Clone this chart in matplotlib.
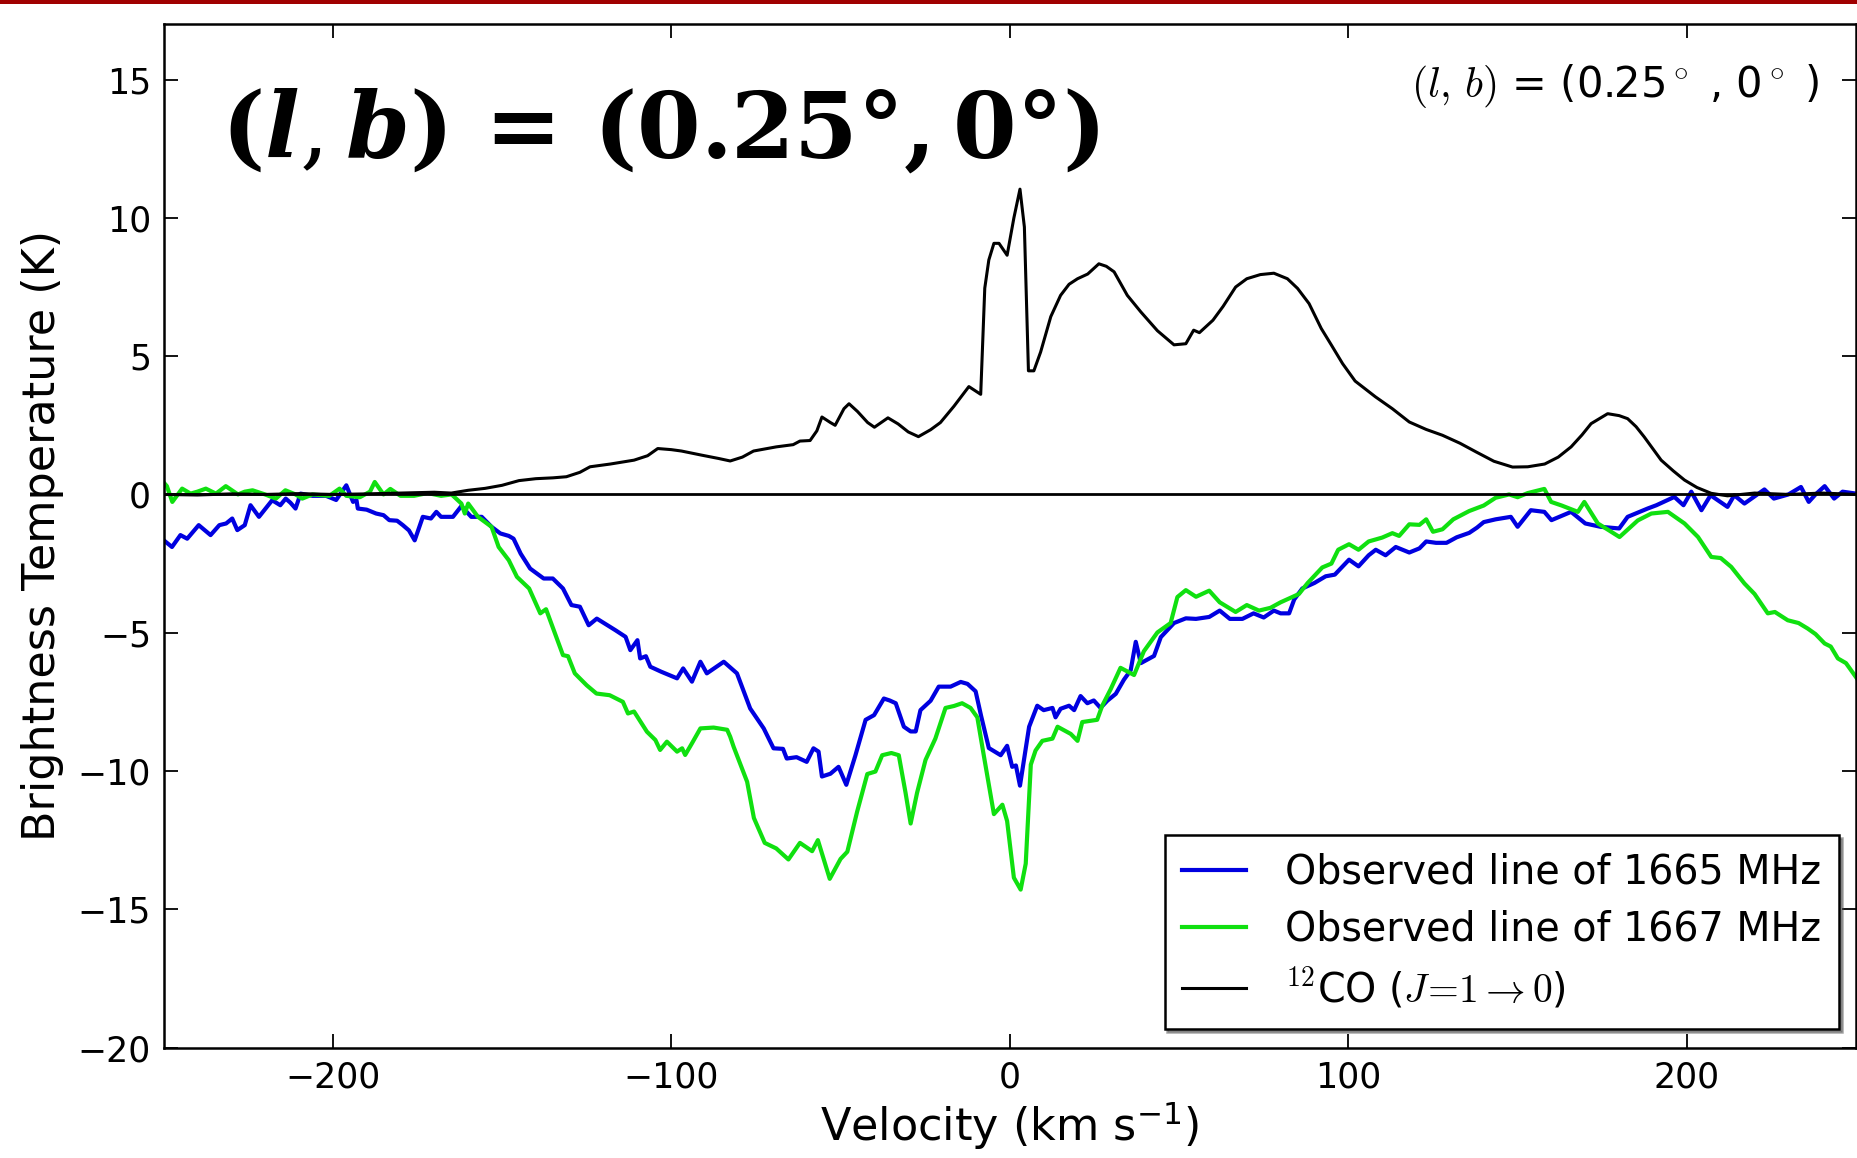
import matplotlib
matplotlib.use("Agg")
import matplotlib.pyplot as plt
from matplotlib.patches import Rectangle

plt.rcParams["font.family"] = ["DejaVu Sans"]
plt.rcParams["mathtext.fontset"] = "cm"

# 12CO (J=1-0)
co_v = [-250, -240, -230, -220, -210, -200, -190, -180, -170, -165, -160, -155,
        -150, -145, -140, -135, -131, -127, -124, -118, -111, -107, -104, -100,
        -97, -91, -86, -82.6, -79, -75.7, -69, -64, -62, -59, -57, -55.5, -53,
        -51.6, -49, -47.5, -45, -42, -40, -36, -33, -30, -27, -23.4, -20.5,
        -16.5, -12.1, -8.6, -7.4, -6.2, -4.7, -3.2, -0.8, 1.2, 3.0, 4.3, 5.5,
        7.1, 9.1, 12.1, 15, 17.5, 20, 23, 26.3, 28.5, 30.8, 34.7, 38.7, 43.6,
        48.5, 52, 54.3, 56, 60, 63, 66.7, 70, 74, 78, 82, 85, 88.4, 92, 95,
        98.3, 102, 108, 113, 118, 123, 127.8, 133, 137.7, 143, 148.5, 153, 158,
        162, 165.8, 169, 171.7, 176.6, 180, 182.5, 185, 187.4, 192.4, 196,
        199.3, 203, 207.2, 212, 220, 230, 240, 250]
co_t = [0.0, -0.02, 0.02, 0.0, 0.03, 0.0, 0.02, 0.05, 0.08, 0.05, 0.15, 0.22,
        0.33, 0.5, 0.57, 0.6, 0.64, 0.8, 1.0, 1.1, 1.24, 1.4, 1.66, 1.62,
        1.57, 1.42, 1.3, 1.21, 1.35, 1.57, 1.72, 1.8, 1.93, 1.95, 2.3, 2.8, 2.6,
        2.5, 3.1, 3.28, 3.0, 2.6, 2.43, 2.77, 2.55, 2.26, 2.09, 2.34, 2.6,
        3.19, 3.9, 3.62, 7.46, 8.48, 9.08, 9.08, 8.65, 10.0, 11.04, 9.67, 4.47,
        4.47, 5.15, 6.43, 7.2, 7.6, 7.8, 7.97, 8.34, 8.25, 8.05, 7.2, 6.6, 5.92,
        5.41, 5.45, 5.94, 5.85, 6.3, 6.8, 7.5, 7.8, 7.95, 8.0, 7.8, 7.45, 6.9, 6.0, 5.4,
        4.73, 4.1, 3.53, 3.1, 2.62, 2.35, 2.14, 1.85, 1.54, 1.2, 0.99, 1.0, 1.1,
        1.35, 1.72, 2.15, 2.56, 2.92, 2.85, 2.74, 2.45, 2.08, 1.24, 0.85,
        0.52, 0.25, 0.04, -0.05, 0.05, 0.0, 0.05, 0.0]

# OH 1665 MHz
oh1665_v = [-250.5, -247.5, -245, -243, -239.6, -236.1, -233.5, -231.5, -229.7,
            -228.2, -226, -224.3, -221.8, -217.9, -215.5, -213.9, -212.5, -211,
            -209.5, -206, -202, -199, -196, -194, -193, -192.6, -190, -187.2,
            -185, -183.3, -181, -179.3, -177.5, -175.8, -173.4, -171, -169.4,
            -168, -164.5, -162, -159.1, -156, -153.1, -150.5, -148, -146.6,
            -144.5, -141.7, -137.7, -135, -132, -129.5, -127, -124.4, -122,
            -116.5, -113.5, -112.1, -110, -109.2, -107.5, -106.2, -103, -98.3,
            -96.5, -93.9, -91.4, -89.5, -84.5, -80.6, -76.7, -72.7, -69.8, -67,
            -65.9, -63, -60, -58, -56.5, -55.5, -53, -50.6, -48.3, -45.6, -42.6,
            -40.1, -37.2, -35.5, -33.7, -31.3, -29.3, -27.8, -26.4, -23.4, -21,
            -17.5, -14.5, -12.5, -10.1, -8.5, -6.2, -2.7, -0.8, 0.7, 1.8, 3.0,
            4.3, 5.7, 8.1, 10, 12.6, 13.5, 15, 17.5, 19, 20.9, 22.9, 24.8, 26.8,
            28.8, 31.3, 33.7, 35.7, 37.2, 38.7, 42.6, 44.6, 46.5, 48.5, 52, 55,
            58.9, 62, 65, 68.7, 72, 75, 78, 80, 82.5, 84, 86.4, 90, 93.3, 96,
            100.2, 103, 106, 108.1, 111, 114, 118, 121, 123, 125.9, 129, 132,
            135.7, 138, 140, 143.5, 146, 148, 150, 153.9, 157.9, 160, 165.8,
            170, 174.5, 180, 182.5, 188.4, 191, 196.3, 199, 201.3, 204.3, 207,
            212, 214, 217, 222.9, 225.7, 230, 233.7, 236, 238, 240.7, 243.5,
            246, 250]
oh1665_t = [-1.6, -1.9, -1.47, -1.6, -1.11, -1.47, -1.11, -1.05, -0.87,
            -1.29, -1.11, -0.39, -0.81, -0.21, -0.39, -0.15, -0.3, -0.51,
            0.03, -0.05, -0.05, -0.2, 0.33, -0.27, -0.2, -0.51, -0.55, -0.69,
            -0.75, -0.93, -0.95, -1.11, -1.3, -1.66, -0.81, -0.87, -0.63,
            -0.81, -0.81, -0.42, -0.81, -0.81, -1.17, -1.41, -1.5, -1.6,
            -2.14, -2.68, -3.04, -3.04, -3.4, -4.0, -4.06, -4.73, -4.49,
            -4.91, -5.15, -5.63, -5.27, -5.93, -5.85, -6.23, -6.41, -6.65,
            -6.29, -6.77, -6.05, -6.47, -6.05, -6.47, -7.74, -8.46, -9.18, -9.2,
            -9.55, -9.5, -9.67, -9.18, -9.3, -10.2, -10.1, -9.85, -10.5, -9.43, -8.15,
            -7.98, -7.38, -7.45, -7.55, -8.4, -8.57, -8.57, -7.8, -7.46, -6.95,
            -6.95, -6.78, -6.85, -7.12, -8.0, -9.17, -9.43, -9.09, -9.85, -9.8, -10.53,
            -9.5, -8.4, -7.64, -7.8, -7.72, -8.06, -7.75, -7.64, -7.8, -7.29, -7.55, -7.45, -7.72,
            -7.46, -7.21, -6.7, -6.36, -5.33, -6.1, -5.84, -5.16, -4.91, -4.65, -4.48, -4.5,
            -4.43, -4.2, -4.5, -4.5, -4.3, -4.45, -4.2, -4.3, -4.3, -3.8, -3.4, -3.2, -2.96, -2.9,
            -2.36, -2.6, -2.2, -2.0, -2.2, -1.9, -2.1, -1.95, -1.7, -1.75, -1.75, -1.55,
            -1.39, -1.2, -1.0, -0.9, -0.85, -0.81, -1.17, -0.57, -0.63, -0.93, -0.63,
            -1.05, -1.17, -1.23, -0.81, -0.51, -0.39, -0.09, -0.39, 0.1, -0.57, -0.03,
            -0.45, -0.03, -0.33, 0.18, -0.15, 0.0, 0.27, -0.27, 0.0, 0.3, -0.15,
            0.1, 0.03]

# OH 1667 MHz
oh1667_v = [-250.5, -249, -247.4, -244.5, -242, -240, -237.5, -234.5, -231.6,
            -228, -226, -223.7, -220, -216.8, -214, -211, -209, -206, -201, -198,
            -196, -192, -189, -187.6, -185, -183, -180, -176, -172, -168,
            -164.9, -162, -161, -160, -157.1, -153.1, -151, -148, -145.6, -142,
            -138.7, -137, -132, -130.5, -128.5, -125, -122.1, -118.2, -114.3,
            -112.8, -111, -107.2, -104.7, -103.3, -101.3, -98.3, -96.8, -95.9,
            -93.9, -91.4, -87.5, -83.5, -82.6, -81.6, -77.6, -75.6, -72.4, -69,
            -65.4, -62, -58.4, -56.7, -53.2, -50, -48, -45.1, -42.1, -39.7,
            -37.7, -35, -32.8, -30.8, -29.3, -27.4, -24.9, -22, -19, -16.5,
            -14.1, -11.6, -9.6, -7.7, -4.7, -2.2, -0.8, 1.2, 3.2, 4.7, 6.2, 7.6,
            9.6, 12.6, 14.1, 18, 20, 21.4, 25.8, 27.3, 29.8, 32.7, 36.7, 39.6,
            43.6, 47.5, 49.5, 52, 55, 58.9, 62, 66.7, 70, 73.6, 77, 80, 85.4, 88,
            92.3, 95, 97, 100.2, 103, 106, 110, 113, 115, 118, 121, 123, 125,
            127.8, 131, 135.7, 140, 143.5, 147.5, 150, 153, 157.9, 159.9, 163,
            167.8, 169.7, 173.7, 177, 180.1, 185.5, 189.5, 194.4, 199.3, 203.3,
            207.2, 210, 213.1, 217, 220, 223.9, 226, 229.8, 233, 235.7, 238,
            240.7, 242.5, 244.6, 247, 250.5]
oh1667_t = [0.51, 0.3, -0.27, 0.21, 0.03, 0.1, 0.21, 0.03, 0.3,
            0.0, 0.1, 0.15, 0.0, -0.15, 0.15, 0.0, -0.15, 0.0, -0.05, 0.21,
            -0.05, -0.1, 0.1, 0.45, 0.0, 0.2, -0.05, -0.05, 0.05, -0.05,
            0.0, -0.33, -0.69, -0.33, -0.81, -1.17, -1.9, -2.38, -2.98, -3.4,
            -4.3, -4.15, -5.81, -5.85, -6.47, -6.9, -7.2, -7.26, -7.5,
            -7.92, -7.85, -8.58, -8.88, -9.24, -8.94, -9.3, -9.18, -9.42,
            -9.0, -8.46, -8.43, -8.51, -8.76, -9.12, -10.39, -11.7, -12.6, -12.8,
            -13.2, -12.6, -12.9, -12.5, -13.9, -13.18, -12.92, -11.47, -10.11, -10.02,
            -9.43, -9.35, -9.43, -10.79, -11.9, -10.79, -9.6, -8.83, -7.72, -7.65,
            -7.55, -7.72, -8.06, -9.43, -11.56, -11.22, -11.81, -13.86, -14.29, -13.35, -9.77, -9.26,
            -8.91, -8.83, -8.4, -8.66, -8.91, -8.23, -8.15, -7.64, -7.04, -6.27, -6.53, -5.67,
            -4.99, -4.65, -3.71, -3.46, -3.7, -3.48, -3.9, -4.25, -4.0, -4.2, -4.1, -3.9, -3.6, -3.2,
            -2.64, -2.5, -2.0, -1.8, -2.0, -1.7, -1.56, -1.4, -1.5, -1.08, -1.1, -0.9, -1.35,
            -1.26, -0.9, -0.6, -0.4, -0.12, 0.0, -0.1, 0.05, 0.2, -0.27, -0.4,
            -0.63, -0.27, -1.05, -1.3, -1.54, -0.94, -0.69, -0.63, -1.05, -1.54,
            -2.26, -2.3, -2.62, -3.22, -3.6, -4.3, -4.25, -4.55, -4.65, -4.85, -5.05,
            -5.39, -5.5, -5.93, -6.1, -6.7]

fig = plt.figure(figsize=(18.58, 11.58), dpi=100)
ax = fig.add_axes([0.088, 0.0954, 0.911, 0.8836])

ax.plot(oh1665_v, oh1665_t, color="#0000e0", lw=3.0, label="Observed line of 1665 MHz")
ax.plot(oh1667_v, oh1667_t, color="#10e010", lw=3.0, label="Observed line of 1667 MHz")
ax.plot(co_v, co_t, color="black", lw=2.2, label=r"$^{12}$CO ($J\!=\!1\rightarrow0$)")
ax.axhline(0, color="black", lw=2.0)

ax.set_xlim(-250, 250)
ax.set_ylim(-20, 17)
ax.set_xticks([-200, -100, 0, 100, 200])
ax.set_yticks([-20, -15, -10, -5, 0, 5, 10, 15])
ax.tick_params(direction="in", top=True, right=True, length=10, width=1.3,
               labelsize=25, pad=9)
for s in ax.spines.values():
    s.set_linewidth(1.8)

ax.set_xlabel(r"Velocity (km s$\mathregular{^{-1}}$)", fontsize=32, labelpad=4)
ax.set_ylabel("Brightness Temperature (K)", fontsize=32, labelpad=10)

ax.text(0.978, 0.94, r"$(l,\,b)$ = (0.25$^\circ$ , 0$^\circ$ )", transform=ax.transAxes,
        ha="right", va="center", fontsize=30)

ax.text(0.034, 0.895, r"$\mathbf{(}\mathbfit{l},\mathbfit{b}\mathbf{)\,=\,(0.25°,0°)}$",
        transform=ax.transAxes, ha="left", va="center", fontsize=66,
        math_fontfamily="dejavuserif")

leg = ax.legend(loc="lower right", bbox_to_anchor=(0.99, 0.018), fontsize=28.5,
                fancybox=False, shadow=True, framealpha=1, handlelength=1.6,
                handletextpad=1.0, labelspacing=0.42, borderaxespad=0,
                borderpad=0.45)
leg.get_frame().set_edgecolor("black")
leg.get_frame().set_linewidth(1.8)

# dark red bar along the top of the slide
fig.add_artist(Rectangle((0, 1 - 4 / 1158), 1, 4 / 1158, transform=fig.transFigure,
                         color="#a00000", lw=0))

fig.savefig("out.png", dpi=100)
